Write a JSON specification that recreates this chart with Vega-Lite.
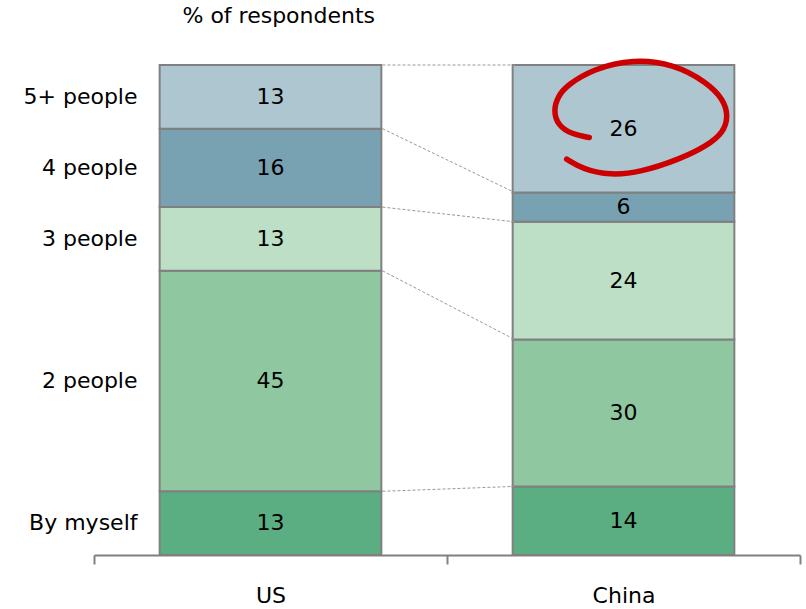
{
  "$schema": "https://vega.github.io/schema/vega-lite/v6.json",
  "width": 706,
  "height": 490,
  "autosize": {"type": "none"},
  "padding": {"left": 94, "top": 65, "right": 6, "bottom": 54},
  "background": "white",
  "config": {"view": {"stroke": null}, "font": "DejaVu Sans"},
  "title": {"text": "% of respondents", "anchor": "start", "dx": 159, "fontSize": 22, "font": "DejaVu Sans", "fontWeight": "normal", "color": "#000000", "offset": 22},
  "datasets": {
    "rows": [
      {"country": "US", "group": "By myself", "order": 1, "value": 13},
      {"country": "US", "group": "2 people", "order": 2, "value": 45},
      {"country": "US", "group": "3 people", "order": 3, "value": 13},
      {"country": "US", "group": "4 people", "order": 4, "value": 16},
      {"country": "US", "group": "5+ people", "order": 5, "value": 13},
      {"country": "China", "group": "By myself", "order": 1, "value": 14},
      {"country": "China", "group": "2 people", "order": 2, "value": 30},
      {"country": "China", "group": "3 people", "order": 3, "value": 24},
      {"country": "China", "group": "4 people", "order": 4, "value": 6},
      {"country": "China", "group": "5+ people", "order": 5, "value": 26}
    ],
    "circle": [
      {"i": 1, "x": 1.403, "y": 85.2},
      {"i": 2, "x": 1.353, "y": 85.9},
      {"i": 3, "x": 1.315, "y": 87.6},
      {"i": 4, "x": 1.301, "y": 90.7},
      {"i": 5, "x": 1.315, "y": 93.7},
      {"i": 6, "x": 1.339, "y": 95.8},
      {"i": 7, "x": 1.414, "y": 99.2},
      {"i": 8, "x": 1.528, "y": 101.2},
      {"i": 9, "x": 1.641, "y": 100.2},
      {"i": 10, "x": 1.736, "y": 96.5},
      {"i": 11, "x": 1.783, "y": 93.0},
      {"i": 12, "x": 1.797, "y": 89.6},
      {"i": 13, "x": 1.783, "y": 86.2},
      {"i": 14, "x": 1.736, "y": 83.5},
      {"i": 15, "x": 1.660, "y": 80.8},
      {"i": 16, "x": 1.547, "y": 78.1},
      {"i": 17, "x": 1.462, "y": 77.5},
      {"i": 18, "x": 1.386, "y": 78.7},
      {"i": 19, "x": 1.339, "y": 80.8}
    ]
  },
  "layer": [
    {
      "layer": [
        {
          "data": {"name": "rows"},
          "transform": [
            {"stack": "value", "groupby": ["country"], "sort": [{"field": "order"}], "as": ["y0", "y1"]}
          ],
          "mark": {"type": "bar", "stroke": "#808080", "strokeWidth": 2, "width": {"band": 0.628}},
          "encoding": {
            "x": {
              "field": "country", "type": "nominal", "sort": ["US", "China"],
              "scale": {"paddingInner": 0, "paddingOuter": 0},
              "axis": {
                "title": null, "labelAngle": 0, "tickBand": "extent", "domainColor": "#808080", "domainWidth": 2,
                "tickColor": "#808080", "tickWidth": 2, "tickSize": 9, "labelFontSize": 22, "labelColor": "#000000",
                "labelFont": "DejaVu Sans", "labelPadding": 21
              }
            },
            "y": {"field": "y0", "type": "quantitative", "scale": {"domain": [0, 100], "nice": false}, "axis": null},
            "y2": {"field": "y1"},
            "color": {
              "field": "group", "type": "nominal", "legend": null,
              "scale": {
                "domain": ["By myself", "2 people", "3 people", "4 people", "5+ people"],
                "range": ["#5BAD82", "#8FC7A0", "#BDDFC5", "#78A1B1", "#ADC6CF"]
              }
            }
          }
        },
        {
          "data": {"name": "rows"},
          "transform": [
            {"stack": "value", "groupby": ["country"], "sort": [{"field": "order"}], "as": ["y0", "y1"]},
            {"pivot": "country", "value": "y1", "groupby": ["group"]}
          ],
          "mark": {"type": "rule", "stroke": "#999999", "strokeWidth": 1, "strokeDash": [3, 2], "xOffset": 112, "x2Offset": -109},
          "encoding": {
            "x": {"datum": "US", "type": "nominal"},
            "x2": {"datum": "China"},
            "y": {"field": "US", "type": "quantitative"},
            "y2": {"field": "China"}
          }
        },
        {
          "data": {"name": "rows"},
          "transform": [
            {"stack": "value", "groupby": ["country"], "sort": [{"field": "order"}], "as": ["y0", "y1"]},
            {"calculate": "(datum.y0 + datum.y1) / 2", "as": "mid"}
          ],
          "mark": {"type": "text", "fontSize": 22, "font": "DejaVu Sans", "color": "#000000", "baseline": "middle"},
          "encoding": {
            "x": {"field": "country", "type": "nominal", "sort": ["US", "China"]},
            "y": {"field": "mid", "type": "quantitative"},
            "text": {"field": "value", "type": "quantitative"}
          }
        },
        {
          "data": {"name": "rows"},
          "transform": [
            {"filter": "datum.country === 'US'"},
            {"stack": "value", "groupby": ["country"], "sort": [{"field": "order"}], "as": ["y0", "y1"]},
            {"calculate": "(datum.y0 + datum.y1) / 2", "as": "mid"}
          ],
          "mark": {"type": "text", "fontSize": 22, "font": "DejaVu Sans", "color": "#000000", "baseline": "middle", "align": "right", "dx": -133},
          "encoding": {
            "x": {"field": "country", "type": "nominal", "sort": ["US", "China"]},
            "y": {"field": "mid", "type": "quantitative"},
            "text": {"field": "group", "type": "nominal"}
          }
        }
      ]
    },
    {
      "data": {"name": "circle"},
      "mark": {"type": "line", "stroke": "#CC0000", "strokeWidth": 5.5, "strokeCap": "round", "interpolate": "basis"},
      "encoding": {
        "x": {"field": "x", "type": "quantitative", "scale": {"domain": [0, 2], "nice": false, "zero": false}, "axis": null},
        "y": {"field": "y", "type": "quantitative"},
        "order": {"field": "i", "type": "quantitative"}
      }
    }
  ],
  "resolve": {"scale": {"x": "independent"}}
}
